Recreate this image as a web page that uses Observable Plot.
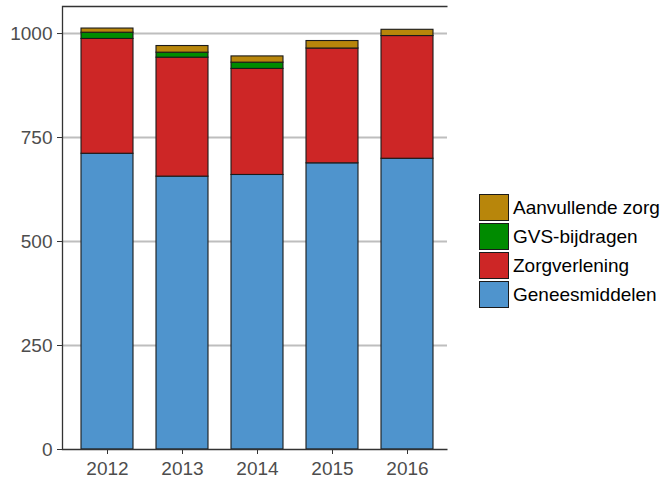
<!DOCTYPE html>
<html>
<head>
<meta charset="utf-8">
<script src="https://cdn.jsdelivr.net/npm/d3@7"></script>
<script src="https://cdn.jsdelivr.net/npm/@observablehq/plot@0.6"></script>
<style>
  html, body { margin: 0; padding: 0; background: white; }
  #wrap { position: relative; width: 666px; height: 479px; font-family: "Liberation Sans", Arial, sans-serif; }
  #legend { position: absolute; left: 479px; top: 194px; }
  .row { position: relative; height: 29.1px; }
  .key { position: absolute; left: 0; top: 0; width: 30px; height: 27px; box-sizing: border-box; border: 1.3px solid #1a1a1a; }
  .lab { position: absolute; left: 34px; top: 0; height: 27px; line-height: 27px; font-size: 19px; color: #000; white-space: nowrap; }
</style>
</head>
<body>
<div id="wrap"></div>
<script>
const years = ["2012", "2013", "2014", "2015", "2016"];
const categories = ["Geneesmiddelen", "Zorgverlening", "GVS-bijdragen", "Aanvullende zorg"];
const geneesmiddelen = [711, 656, 660, 688, 699];
const zorgverlening = [276, 286, 255, 276, 295];
const gvsBijdragen = [15, 12, 15, 0, 0];
const aanvullendeZorg = [10, 16, 15, 18, 15];
const colors = ["#4F94CD", "#CD2626", "#008B00", "#B8860B"];
const yTicks = [0, 250, 500, 750, 1000];

const series = [geneesmiddelen, zorgverlening, gvsBijdragen, aanvullendeZorg];
const data = [];
years.forEach((year, i) => {
  categories.forEach((category, j) => {
    data.push({year, category, value: series[j][i]});
  });
});

const W = 666, H = 479, mL = 62, mR = 219, mT = 6, mB = 30;
const fw = W - mL - mR, fh = H - mT - mB;

const chart = Plot.plot({
  width: W,
  height: H,
  marginLeft: mL,
  marginRight: mR,
  marginTop: mT,
  marginBottom: mB,
  style: {fontFamily: "'Liberation Sans', Arial, sans-serif", fontSize: "19px", color: "#4D4D4D", background: "white"},
  x: {domain: years, paddingInner: 0.31, paddingOuter: 0.21, align: 0.575, label: null},
  y: {domain: [0, 1065], label: null},
  color: {domain: categories, range: colors},
  marks: [
    Plot.gridY(yTicks.filter(d => d > 0), {stroke: "#BEBEBE", strokeOpacity: 1, strokeWidth: 2}),
    Plot.barY(data.filter(d => d.value > 0), Plot.stackY({
      order: categories,
      x: "year",
      y: "value",
      fill: "category",
      stroke: "#1a1a1a",
      strokeWidth: 1.1
    })),
    Plot.frame({stroke: "#333333", strokeWidth: 1.3, strokeDasharray: `${fw} ${fh} ${fw + fh + 10}`}),
    Plot.axisX({tickSize: 5, tickPadding: 7, stroke: "#333333", fill: "#4D4D4D", label: null, fontSize: 19}),
    Plot.axisY({ticks: yTicks, tickFormat: d => String(d), tickSize: 5, tickPadding: 5, stroke: "#333333", fill: "#4D4D4D", label: null, fontSize: 19})
  ]
});

const wrap = document.getElementById("wrap");
wrap.appendChild(chart);

const legend = document.createElement("div");
legend.id = "legend";
const order = [3, 2, 1, 0];
order.forEach(j => {
  const row = document.createElement("div");
  row.className = "row";
  const key = document.createElement("div");
  key.className = "key";
  key.style.background = colors[j];
  const lab = document.createElement("div");
  lab.className = "lab";
  lab.textContent = categories[j];
  row.appendChild(key);
  row.appendChild(lab);
  legend.appendChild(row);
});
wrap.appendChild(legend);
</script>
</body>
</html>
